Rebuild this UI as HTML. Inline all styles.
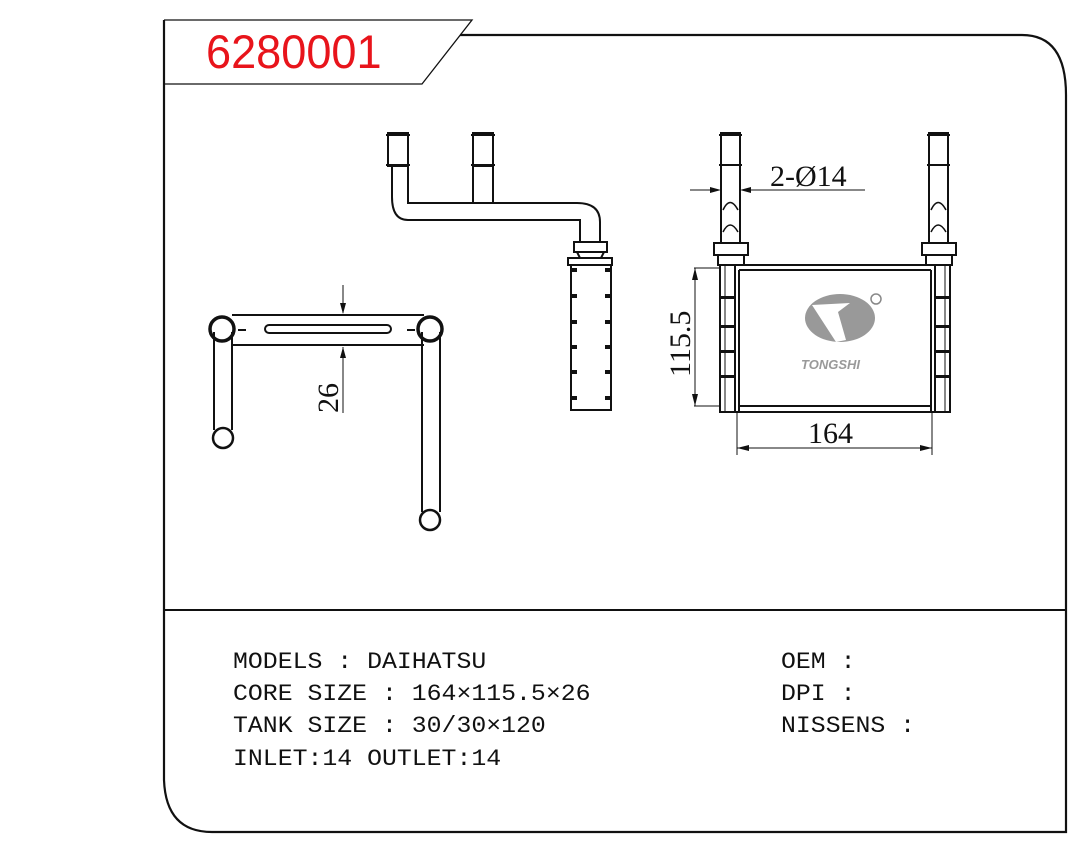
<!DOCTYPE html>
<html><head><meta charset="utf-8"><style>
html,body{margin:0;padding:0;background:#fff;}
svg{display:block;}
.t{font-family:"Liberation Mono",monospace;font-size:23px;fill:#111;}
.s{font-family:"Liberation Serif",serif;fill:#111;}
</style></head><body>
<svg width="1071" height="844" viewBox="0 0 1071 844" xmlns="http://www.w3.org/2000/svg">
<g fill="none" stroke="#111">
<path d="M164 20 V780 Q166 832 212 832 H1066 V95 Q1066 35 1022 35 H460" stroke-width="2.2"/>
<path d="M164 20 H472 L422 84 H164" stroke-width="1.3"/>
<line x1="164" y1="610" x2="1066" y2="610" stroke-width="2"/>
</g>
<text x="206" y="68" font-family="Liberation Sans,sans-serif" font-size="47" fill="#e8141b" transform="translate(206 0) scale(0.96 1) translate(-206 0)">6280001</text>

<!-- middle view -->
<g fill="none" stroke="#111" stroke-width="2">
<rect x="388" y="133" width="20" height="33"/>
<line x1="386" y1="135" x2="410" y2="135"/><line x1="386" y1="165" x2="410" y2="165"/>
<rect x="473" y="133" width="20" height="33"/>
<line x1="471" y1="135" x2="495" y2="135"/><line x1="471" y1="165" x2="495" y2="165"/>
<path d="M392 166 V197 Q392 220 408 220 H580 V242"/>
<path d="M408 166 V203 H577 Q600 203 600 222 V242"/>
<line x1="473" y1="166" x2="473" y2="203"/><line x1="493" y1="166" x2="493" y2="203"/>
<rect x="574" y="242" width="33" height="10"/>
<path d="M577 252 L580 258 H601 L604 252"/>
<rect x="568" y="258" width="44" height="7"/>
<rect x="571" y="265" width="40" height="145"/>
</g>
<g fill="#111">
<rect x="571" y="268" width="6" height="4"/><rect x="605" y="268" width="6" height="4"/>
<rect x="571" y="294" width="6" height="4"/><rect x="605" y="294" width="6" height="4"/>
<rect x="571" y="320" width="6" height="4"/><rect x="605" y="320" width="6" height="4"/>
<rect x="571" y="345" width="6" height="4"/><rect x="605" y="345" width="6" height="4"/>
<rect x="571" y="370" width="6" height="4"/><rect x="605" y="370" width="6" height="4"/>
<rect x="571" y="396" width="6" height="4"/><rect x="605" y="396" width="6" height="4"/>
</g>

<!-- left view -->
<g fill="none" stroke="#111" stroke-width="2">
<line x1="232" y1="315" x2="424" y2="315"/><line x1="232" y1="345" x2="424" y2="345"/>
<rect x="265" y="325" width="126" height="8" rx="4"/>
<circle cx="222" cy="329" r="12" stroke-width="3.5"/>
<circle cx="430" cy="329" r="12" stroke-width="3.5"/>
<line x1="214" y1="332" x2="214" y2="430"/><line x1="232" y1="332" x2="232" y2="430"/>
<circle cx="223" cy="438" r="10" stroke-width="2.5"/>
<line x1="422" y1="332" x2="422" y2="512"/><line x1="440" y1="332" x2="440" y2="512"/>
<circle cx="430" cy="520" r="10" stroke-width="2.5"/>
<line x1="238" y1="330" x2="246" y2="330"/><line x1="407" y1="330" x2="415" y2="330"/>
<line x1="343" y1="285" x2="343" y2="313" stroke-width="1"/>
<line x1="343" y1="347" x2="343" y2="413" stroke-width="1"/>
</g>
<path d="M340 303 L346 303 L343 314 Z M340 358 L346 358 L343 347 Z" fill="#111"/>
<text class="s" font-size="30" transform="translate(338 413) rotate(-90)">26</text>

<!-- right view -->
<g fill="none" stroke="#111" stroke-width="2">
<rect x="721" y="133" width="19" height="110"/>
<line x1="719" y1="135" x2="742" y2="135"/><line x1="719" y1="165" x2="742" y2="165"/>
<path d="M723 210 Q730 195 738 210 M723 232 Q730 218 738 232" stroke-width="1.5"/>
<rect x="929" y="133" width="19" height="110"/>
<line x1="927" y1="135" x2="950" y2="135"/><line x1="927" y1="165" x2="950" y2="165"/>
<path d="M931 210 Q938 195 946 210 M931 232 Q938 218 946 232" stroke-width="1.5"/>
<rect x="714" y="243" width="34" height="12"/><rect x="718" y="255" width="26" height="10"/>
<rect x="922" y="243" width="34" height="12"/><rect x="926" y="255" width="26" height="10"/>
<rect x="720" y="265" width="15" height="147"/>
<rect x="935" y="265" width="15" height="147"/>
<rect x="735" y="265" width="200" height="147"/>
<line x1="739" y1="270" x2="931" y2="270"/><line x1="739" y1="406" x2="931" y2="406"/>
<line x1="739" y1="270" x2="739" y2="412"/><line x1="931" y1="270" x2="931" y2="412"/>
<line x1="725" y1="265" x2="725" y2="412" stroke-width="1"/><line x1="945" y1="265" x2="945" y2="412" stroke-width="1"/>
</g>
<g fill="#111">
<rect x="720" y="296" width="15" height="3"/><rect x="720" y="325" width="15" height="3"/><rect x="720" y="350" width="15" height="3"/><rect x="720" y="375" width="15" height="3"/>
<rect x="935" y="296" width="15" height="3"/><rect x="935" y="325" width="15" height="3"/><rect x="935" y="350" width="15" height="3"/><rect x="935" y="375" width="15" height="3"/>
</g>
<g stroke="#111" stroke-width="1" fill="none">
<line x1="690" y1="190" x2="718" y2="190"/><line x1="743" y1="190" x2="865" y2="190"/>
<line x1="694" y1="268" x2="720" y2="268"/><line x1="694" y1="406" x2="720" y2="406"/>
<line x1="695" y1="268" x2="695" y2="406"/>
<line x1="737" y1="412" x2="737" y2="455"/><line x1="932" y1="412" x2="932" y2="455"/>
<line x1="737" y1="448" x2="932" y2="448"/>
</g>
<path d="M710 187 L721 190 L710 193 Z M751 187 L740 190 L751 193 Z M692 280 L695 268 L698 280 Z M692 394 L695 406 L698 394 Z M749 445 L737 448 L749 451 Z M920 445 L932 448 L920 451 Z" fill="#111"/>
<text class="s" x="770" y="186" font-size="30">2-Ø14</text>
<text class="s" x="808" y="443" font-size="30">164</text>
<text class="s" font-size="30" transform="translate(690 377) rotate(-90)">115.5</text>
<ellipse cx="840" cy="318" rx="35" ry="24" fill="#999"/>
<path d="M812 305 L850 303 L838 312 L846 340 L836 342 Z" fill="#fff"/>
<circle cx="876" cy="299" r="5" fill="none" stroke="#888" stroke-width="1.5"/>
<text x="801" y="369" font-family="Liberation Sans,sans-serif" font-weight="bold" font-style="italic" font-size="13" fill="#999">TONGSHI</text>

<g transform="translate(233 0) scale(1.08 1)">
<text class="t" x="0" y="668">MODELS : DAIHATSU</text>
<text class="t" x="0" y="700">CORE SIZE : 164×115.5×26</text>
<text class="t" x="0" y="732">TANK SIZE : 30/30×120</text>
<text class="t" x="0" y="765">INLET:14  OUTLET:14</text>
</g>
<g transform="translate(781 0) scale(1.08 1)">
<text class="t" x="0" y="668">OEM :</text>
<text class="t" x="0" y="700">DPI :</text>
<text class="t" x="0" y="732">NISSENS :</text>
</g>
</svg>
</body></html>
